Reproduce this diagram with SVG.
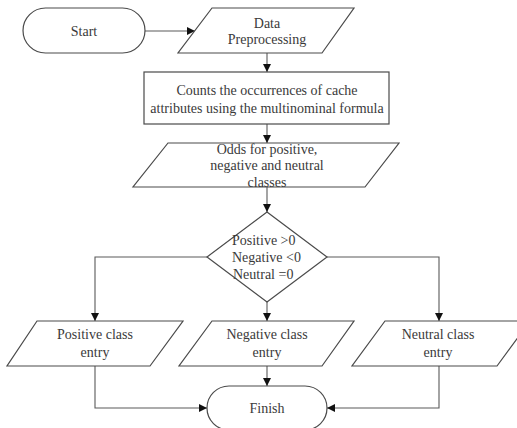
<svg xmlns="http://www.w3.org/2000/svg" width="517" height="428" viewBox="0 0 517 428">
<style>
.s{fill:#fff;stroke:#4a4a4a;stroke-width:1.2}
.t{font-family:"Liberation Serif","Times New Roman",serif;font-size:14px;fill:#3a3a3a;text-anchor:middle}
.l{fill:none;stroke:#5a5a5a;stroke-width:1.1}
</style>
<defs>
<marker id="ah" viewBox="0 0 10 10" refX="10" refY="5" markerWidth="8" markerHeight="8" markerUnits="userSpaceOnUse" orient="auto">
<path d="M0,0 L10,5 L0,10 Z" fill="#111"/>
</marker>
</defs>
<rect width="517" height="428" fill="#fff"/>
<g id="connectors">
<path class="l" d="M145,31 H195" marker-end="url(#ah)"/>
<path class="l" d="M267,53 V72" marker-end="url(#ah)"/>
<path class="l" d="M267,124 V143" marker-end="url(#ah)"/>
<path class="l" d="M267,187 V212" marker-end="url(#ah)"/>
<path class="l" d="M267,302 V321" marker-end="url(#ah)"/>
<path class="l" d="M207,257 H95 V321" marker-end="url(#ah)"/>
<path class="l" d="M327,257 H439 V321" marker-end="url(#ah)"/>
<path class="l" d="M95,366 V408 H207" marker-end="url(#ah)"/>
<path class="l" d="M267,366 V386" marker-end="url(#ah)"/>
<path class="l" d="M439,366 V408 H327" marker-end="url(#ah)"/>
</g>
<g id="start">
<rect class="s" x="23" y="8" width="122" height="45" rx="22.5"/>
<text class="t" x="84" y="36">Start</text>
</g>
<g id="data">
<polygon class="s" points="212,8 354,8 322,53 178,53"/>
<text class="t" x="267" y="28">Data</text>
<text class="t" x="267" y="44">Preprocessing</text>
</g>
<g id="counts">
<rect class="s" x="144" y="72" width="245" height="52"/>
<text class="t" x="267" y="95">Counts the occurrences of cache</text>
<text class="t" x="267" y="113">attributes using the multinominal formula</text>
</g>
<g id="odds">
<polygon class="s" points="168,143 399,143 365,187 133,187"/>
<text class="t" x="267" y="154">Odds for positive,</text>
<text class="t" x="267" y="170">negative and neutral</text>
<text class="t" x="267" y="187">classes</text>
</g>
<g id="decision">
<polygon class="s" points="267,212 327,257 267,302 207,257"/>
<text class="t" x="232" y="245" style="text-anchor:start">Positive &gt;0</text>
<text class="t" x="232" y="262" style="text-anchor:start">Negative &lt;0</text>
<text class="t" x="233" y="279" style="text-anchor:start">Neutral =0</text>
</g>
<g id="positive">
<polygon class="s" points="37,321 183,321 150,366 7,366"/>
<text class="t" x="95" y="339">Positive class</text>
<text class="t" x="95" y="357">entry</text>
</g>
<g id="negative">
<polygon class="s" points="212,321 354,321 322,366 179,366"/>
<text class="t" x="267" y="339">Negative class</text>
<text class="t" x="267" y="357">entry</text>
</g>
<g id="neutral">
<polygon class="s" points="385,321 530,321 497,366 352,366"/>
<text class="t" x="438" y="339">Neutral class</text>
<text class="t" x="438" y="357">entry</text>
</g>
<g id="finish">
<rect class="s" x="207" y="386" width="120" height="44" rx="22"/>
<text class="t" x="267" y="413">Finish</text>
</g>
</svg>
